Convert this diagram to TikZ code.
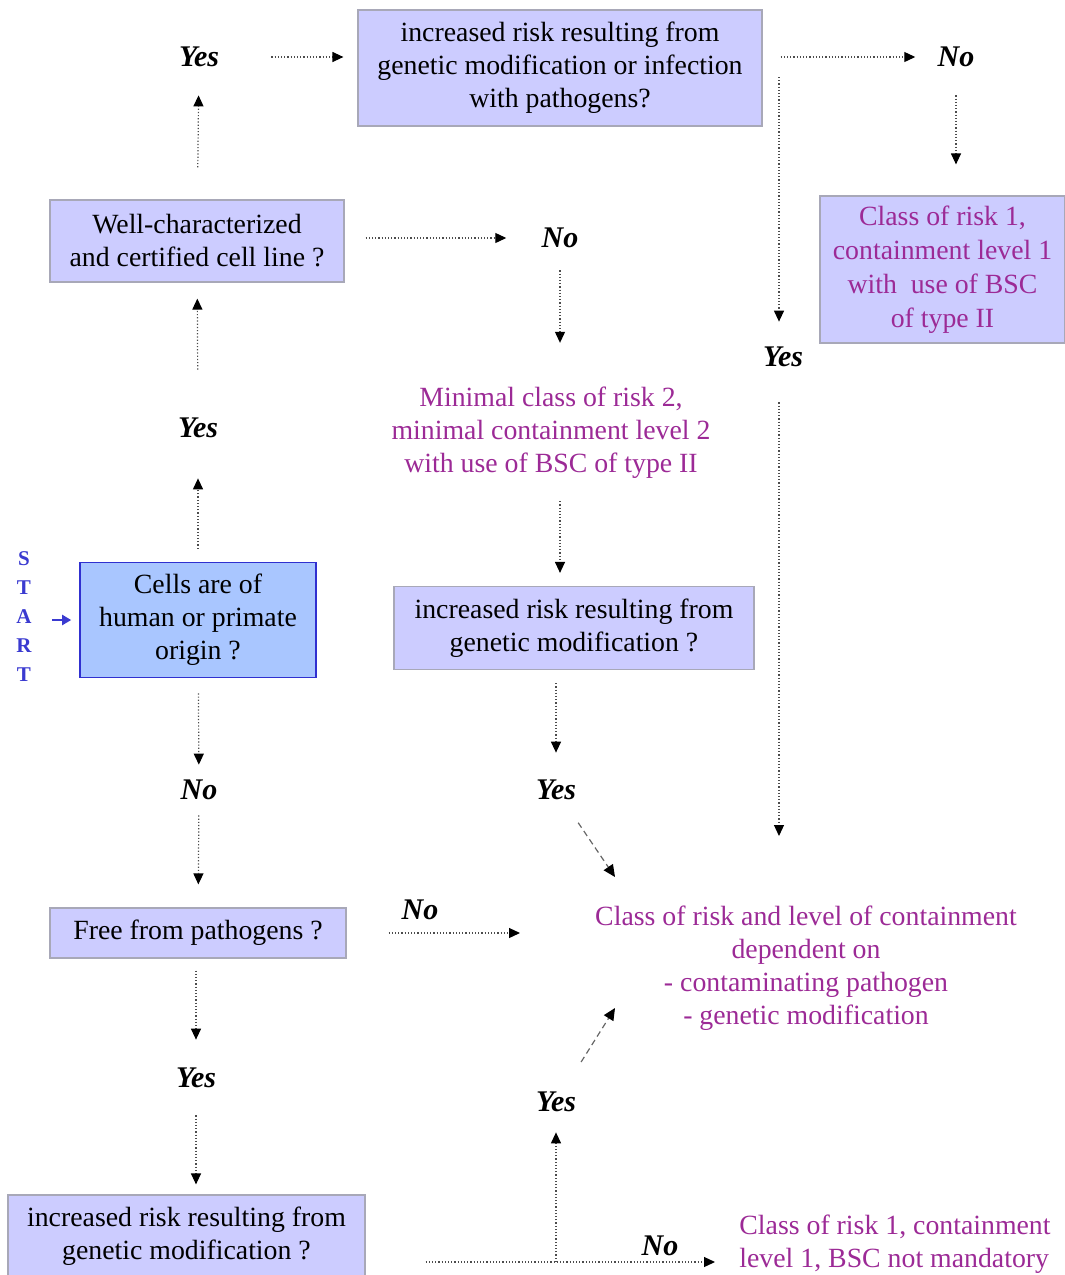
\documentclass[tikz,border=0pt]{standalone}
\usepackage{fontspec}
\setmainfont{Liberation Serif}
\usepackage{xcolor}
\usepackage{tikz}
\usetikzlibrary{arrows.meta,calc}

\definecolor{boxfill}{HTML}{CCCCFF}
\definecolor{boxline}{HTML}{A8A8B8}
\definecolor{cellfill}{HTML}{A9C6FF}
\definecolor{cellline}{HTML}{3030D0}
\definecolor{outcome}{HTML}{9C2A96}
\definecolor{startblue}{HTML}{3A3AD0}

\begin{document}
\begin{tikzpicture}[x=0.5pt,y=-0.5pt,font=\fontsize{13.9}{16.5}\selectfont,
    qbox/.style={draw=boxline,fill=boxfill,line width=.6pt,align=center,inner sep=0pt},
    answer/.style={font=\fontsize{15}{17}\selectfont\bfseries\itshape,inner sep=0pt},
    result/.style={text=outcome,align=center,inner sep=0pt},
    flow/.style={densely dotted,line width=.6pt,draw=black!70,-{Triangle[length=5.5pt,width=5pt,color=black]}},
    diag/.style={densely dashed,line width=.6pt,draw=black!60,-{Triangle[length=6pt,width=5.5pt,color=black]}},
    startarrow/.style={draw=startblue,line width=1pt,-{Triangle[length=4.5pt,width=5pt]}}]
      \useasboundingbox (0,0) rectangle (1065,1275);
      % questions
      \node[qbox,minimum width=202pt,minimum height=58pt] (riskgi) at (560,68) {increased risk resulting from\\genetic modification or infection\\with pathogens?};
      \node[qbox,minimum width=147pt,minimum height=41pt] (certified) at (197,241) {Well-characterized\\and certified cell line ?};
      \node[qbox,draw=cellline,fill=cellfill,line width=.8pt,minimum width=118pt,minimum height=57.5pt] (origin) at (198,620) {Cells are of\\human or primate\\origin ?};
      \node[qbox,minimum width=180pt,minimum height=41.5pt] (riskgm) at (574,628) {increased risk resulting from\\genetic modification ?};
      \node[qbox,minimum width=148pt,minimum height=25pt] (pathfree) at (198,933) {Free from pathogens ?};
      \node[qbox,minimum width=178.5pt,minimum height=41pt] (riskgmb) at (186.5,1236) {increased risk resulting from\\genetic modification ?};
      % outcomes
      \node[qbox,text=outcome,font=\fontsize{13.9}{17}\selectfont,minimum width=122.5pt,minimum height=73.5pt] (level1bsc) at (942.5,269.5) {Class of risk 1,\\containment level 1\\with\ \ use of BSC\\of type II};
      \node[result] (minimal) at (551,433) {Minimal class of risk 2,\\minimal containment level 2\\with use of BSC of type II};
      \node[result] (depend) at (806,968) {Class of risk and level of containment\\dependent on\\- contaminating pathogen\\- genetic modification};
      \node[result,align=left] (level1) at (895,1244) {Class of risk 1, containment\\level 1, BSC not mandatory};
      \node[text=startblue,font=\fontsize{10.5}{14.5}\selectfont\bfseries,align=center,inner sep=0pt] (start) at (24,617) {S\\T\\A\\R\\T};
      % answers
      \node[answer] (yes0) at (199,57) {Yes};
      \node[answer] (no0) at (956,57) {No};
      \node[answer] (no1) at (560,238) {No};
      \node[answer] (yes2) at (783,357) {Yes};
      \node[answer] (yes1) at (198,428) {Yes};
      \node[answer] (no2) at (199,790) {No};
      \node[answer] (yes3) at (556,790) {Yes};
      \node[answer] (no3) at (420,910) {No};
      \node[answer] (yes4) at (196,1078) {Yes};
      \node[answer] (yes5) at (556,1102) {Yes};
      \node[answer] (no4) at (660,1246) {No};
      \coordinate (gmin) at (615,877);
      \coordinate (gin) at (615,1008);
      \coordinate (gpath) at (779,836);
      \coordinate (pin) at (520,933);
      \coordinate (fork) at (556,1262);
      % connectors
      \draw[startarrow,shorten <=10.25pt,shorten >=4pt] (origin.west -| start.east) -- (origin.west);
      \draw[flow,shorten <=6.5pt,shorten >=20pt] (origin) -- (yes1);
      \draw[flow,shorten <=24pt,shorten >=8pt] (yes1) -- (certified);
      \draw[flow,shorten <=16pt,shorten >=14pt] (certified) -- (yes0);
      \draw[flow,shorten <=26pt,shorten >=7pt] (yes0.east) -- (yes0.east -| riskgi.west);
      \draw[flow,shorten <=10.5pt,shorten >=17.5pt] (no1.west -| certified.east) -- (no1.west);
      \draw[flow,shorten <=11pt,shorten >=22pt] (no1.south) -- (no1.south |- minimal.north);
      \draw[flow,shorten <=11pt,shorten >=6.5pt] (minimal.south -| no1.south) -- (riskgm.north -| no1.south);
      \draw[flow,shorten <=6.5pt,shorten >=13.5pt] (riskgm.south -| yes3) -- (yes3.north);
      \draw[diag,shorten <=13.5pt] (yes3) -- (gmin);
      \draw[flow,shorten <=9pt,shorten >=11pt] (riskgi.east |- no0) -- (no0.west);
      \draw[flow,shorten <=4.5pt,shorten >=12.5pt] (riskgi.east -| gpath) -- (yes2.north -| gpath);
      \draw[flow,shorten <=14pt,shorten >=15.5pt] (no0.south) -- (no0.south |- level1bsc.north);
      \draw[flow,shorten <=17.5pt] (yes2.south -| gpath) -- (gpath);
      \draw[flow,shorten <=7.5pt,shorten >=7.5pt] (origin) -- (no2);
      \draw[flow,shorten <=7.5pt,shorten >=11.5pt] (no2) -- (pathfree);
      \draw[flow,shorten <=21pt] (pathfree.east) -- (pin);
      \draw[flow,shorten <=6pt,shorten >=14pt] (pathfree.south -| yes4) -- (yes4.north);
      \draw[flow,shorten <=13.5pt,shorten >=5pt] (yes4.south) -- (yes4.south |- riskgmb.north);
      \draw[flow,shorten <=30pt,shorten >=12pt] (fork -| riskgmb.east) -- (fork -| level1.west);
      \draw[flow,shorten >=10pt] (fork) -- (yes5);
      \draw[diag,shorten <=17.5pt] (yes5) -- (gin);
\end{tikzpicture}
\end{document}
